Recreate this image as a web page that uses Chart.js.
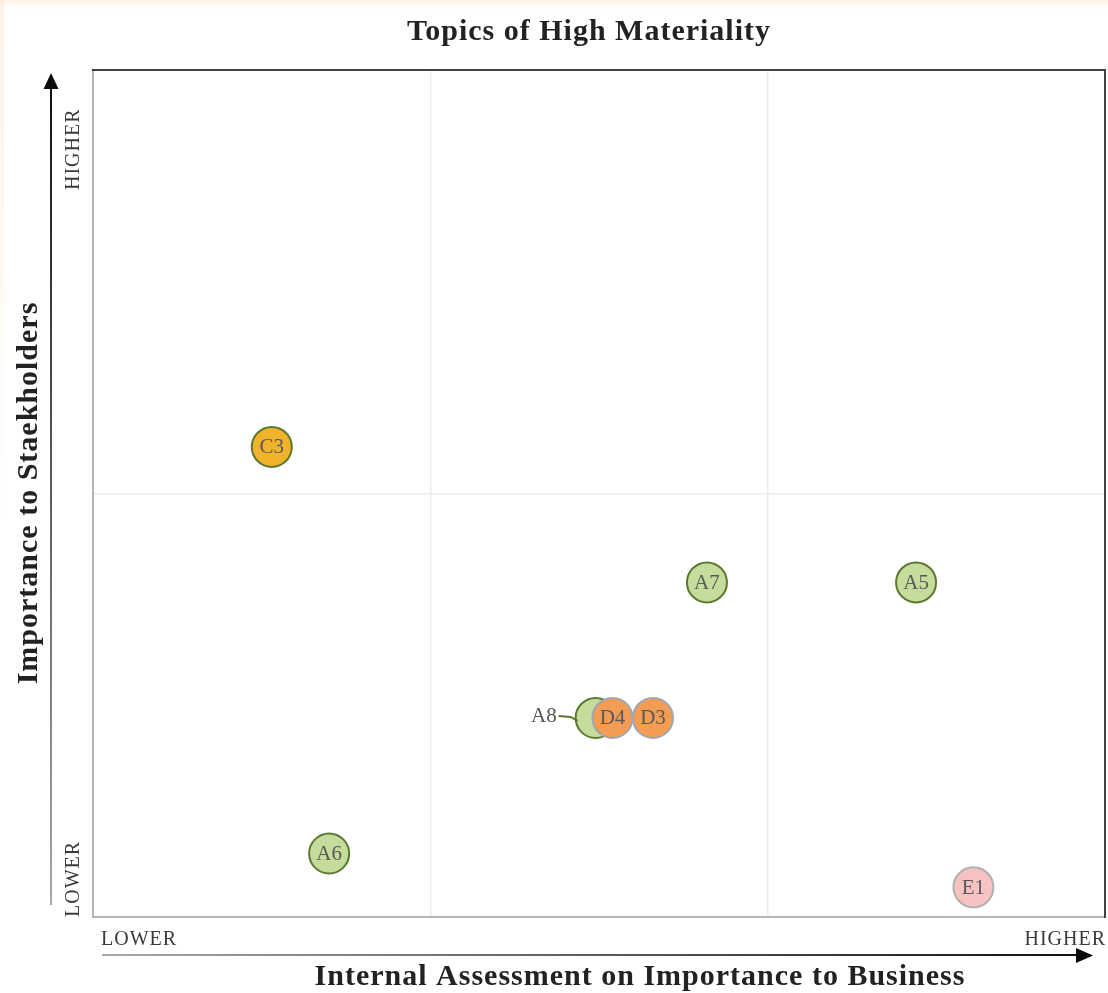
<!DOCTYPE html>
<html>
<head>
<meta charset="utf-8">
<script src="https://cdn.jsdelivr.net/npm/chart.js@4/dist/chart.umd.min.js"></script>
<style>
  html, body { margin: 0; padding: 0; background: #ffffff; }
  #wrap { position: relative; width: 1108px; height: 993px; }
  canvas { display: block; }
</style>
</head>
<body>
<div id="wrap"><canvas id="c" width="1108" height="993"></canvas></div>
<script>
// ---- data ----
const chartTitle = 'Topics of High Materiality';
const xAxisTitle = 'Internal Assessment on Importance to Business';
const yAxisTitle = 'Importance to Staekholders';
const xTickLabels = ['LOWER', 'HIGHER'];
const yTickLabels = ['LOWER', 'HIGHER'];
const topics = ['C3', 'A7', 'A5', 'A6', 'E1', 'A8', 'D4', 'D3'];
const topicGroups = ['C', 'A', 'A', 'A', 'E', 'A', 'D', 'D'];
const businessImportance = [0.53, 1.82, 2.44, 0.70, 2.61, 1.49, 1.54, 1.66];
const stakeholderImportance = [1.11, 0.79, 0.79, 0.15, 0.07, 0.47, 0.47, 0.47];
const calloutTopics = ['A8'];

// ---- styles ----
const groupFill = { A: '#c6dc9c', C: '#f0b32b', D: '#f39c53', E: '#f7c2c2' };
const groupBorder = { A: '#5a7a2f', C: '#5a7a2f', D: '#a2a6ad', E: '#b0b0b0' };
const SERIF = '"Liberation Serif", "DejaVu Serif", serif';

const points = topics.map((t, i) => ({ x: businessImportance[i], y: stakeholderImportance[i] }));

function spaced(ctx, px) { if ('letterSpacing' in ctx) ctx.letterSpacing = px + 'px'; }

const decor = {
  id: 'decor',
  beforeDraw(chart) {
    const ctx = chart.ctx;
    const W = chart.width;
    ctx.save();
    let g = ctx.createLinearGradient(0, 0, 0, 9);
    g.addColorStop(0, 'rgba(250,228,205,0.45)');
    g.addColorStop(1, 'rgba(250,228,205,0)');
    ctx.fillStyle = g; ctx.fillRect(0, 0, W, 9);
    g = ctx.createLinearGradient(0, 0, 0, 520);
    g.addColorStop(0, 'rgba(250,228,205,0.45)');
    g.addColorStop(1, 'rgba(250,228,205,0)');
    ctx.fillStyle = g; ctx.fillRect(0, 0, 4, 520);
    ctx.restore();
  },
  afterDatasetsDraw(chart) {
    const ctx = chart.ctx;
    const a = chart.chartArea;
    const xs = chart.scales.x, ys = chart.scales.y;
    ctx.save();
    // frame
    ctx.lineWidth = 2;
    ctx.strokeStyle = '#b4b6b8';
    ctx.beginPath();
    ctx.moveTo(a.left, a.top); ctx.lineTo(a.left, a.bottom); ctx.lineTo(a.right, a.bottom);
    ctx.stroke();
    ctx.strokeStyle = '#3e4246';
    ctx.beginPath();
    ctx.moveTo(a.left - 1, a.top); ctx.lineTo(a.right, a.top); ctx.lineTo(a.right, a.bottom + 1);
    ctx.stroke();

    // point labels
    const meta = chart.getDatasetMeta(0);
    ctx.font = '21px ' + SERIF;
    spaced(ctx, 0);
    ctx.textBaseline = 'middle';
    meta.data.forEach((el, i) => {
      const t = topics[i];
      if (calloutTopics.includes(t)) {
        ctx.strokeStyle = groupBorder[topicGroups[i]];
        ctx.lineWidth = 2;
        ctx.beginPath();
        ctx.moveTo(el.x - 37, el.y - 2);
        ctx.lineTo(el.x - 25, el.y - 1);
        ctx.lineTo(el.x - 18, el.y + 3);
        ctx.stroke();
        ctx.fillStyle = '#555555';
        ctx.textAlign = 'right';
        ctx.fillText(t, el.x - 39, el.y - 1);
      } else {
        ctx.fillStyle = '#595959';
        ctx.textAlign = 'center';
        ctx.fillText(t, el.x, el.y + 1);
      }
    });

    // axis end labels
    ctx.fillStyle = '#3a3a3a';
    ctx.font = '20px ' + SERIF;
    spaced(ctx, 1);
    ctx.textBaseline = 'alphabetic';
    ctx.textAlign = 'left';
    ctx.fillText(xTickLabels[0], xs.getPixelForValue(xs.min) + 8, a.bottom + 28);
    ctx.textAlign = 'right';
    ctx.fillText(xTickLabels[1], xs.getPixelForValue(xs.max) + 1, a.bottom + 28);
    ctx.save();
    ctx.translate(a.left - 14, 0);
    ctx.rotate(-Math.PI / 2);
    ctx.textAlign = 'left';
    ctx.fillText(yTickLabels[0], -ys.getPixelForValue(ys.min), 0);
    ctx.fillText(yTickLabels[1], -(ys.getPixelForValue(ys.max) + 120), 0);
    ctx.restore();

    // arrows
    let g = ctx.createLinearGradient(0, 905, 0, 80);
    g.addColorStop(0, '#a8a8a8'); g.addColorStop(1, '#111111');
    ctx.strokeStyle = g; ctx.lineWidth = 2;
    ctx.beginPath(); ctx.moveTo(51, 905); ctx.lineTo(51, 86); ctx.stroke();
    ctx.fillStyle = '#0a0a0a';
    ctx.beginPath(); ctx.moveTo(51, 73); ctx.lineTo(58.5, 89); ctx.lineTo(43.5, 89); ctx.closePath(); ctx.fill();
    g = ctx.createLinearGradient(102, 0, 1080, 0);
    g.addColorStop(0, '#a8a8a8'); g.addColorStop(1, '#111111');
    ctx.strokeStyle = g;
    ctx.beginPath(); ctx.moveTo(102, 955); ctx.lineTo(1078, 955); ctx.stroke();
    ctx.beginPath(); ctx.moveTo(1093, 955.5); ctx.lineTo(1076, 948); ctx.lineTo(1076, 963); ctx.closePath(); ctx.fill();

    // titles
    ctx.fillStyle = '#222222';
    ctx.font = 'bold 30px ' + SERIF;
    spaced(ctx, 1);
    ctx.textAlign = 'center';
    ctx.textBaseline = 'alphabetic';
    ctx.fillText(chartTitle, 589, 40);
    ctx.fillText(xAxisTitle, 640, 985);
    ctx.save();
    ctx.translate(37, 493);
    ctx.rotate(-Math.PI / 2);
    ctx.fillText(yAxisTitle, 0, 0);
    ctx.restore();
    ctx.restore();
  }
};

const gridColor = (ctx) => {
  const v = ctx.tick && ctx.tick.value;
  return (v === 0 || v === 3 || (v === 2 && ctx.scale.axis === 'y')) ? 'rgba(0,0,0,0)' : '#ebebeb';
};

new Chart(document.getElementById('c'), {
  type: 'scatter',
  data: {
    datasets: [{
      data: points,
      pointRadius: 20,
      pointHoverRadius: 20,
      borderWidth: 2,
      backgroundColor: topicGroups.map(g => groupFill[g]),
      borderColor: topicGroups.map(g => groupBorder[g])
    }]
  },
  options: {
    responsive: false,
    animation: false,
    events: [],
    layout: { autoPadding: false, padding: { left: 93, top: 70, right: 3, bottom: 76 } },
    plugins: { legend: { display: false }, tooltip: { enabled: false }, title: { display: false } },
    scales: {
      x: {
        type: 'linear', min: 0, max: 3,
        ticks: { display: false, stepSize: 1 },
        border: { display: false },
        grid: { drawTicks: false, color: gridColor, lineWidth: 1.5 }
      },
      y: {
        type: 'linear', min: 0, max: 2,
        ticks: { display: false, stepSize: 1 },
        border: { display: false },
        grid: { drawTicks: false, color: gridColor, lineWidth: 1.5 }
      }
    }
  },
  plugins: [decor]
});
</script>
</body>
</html>
